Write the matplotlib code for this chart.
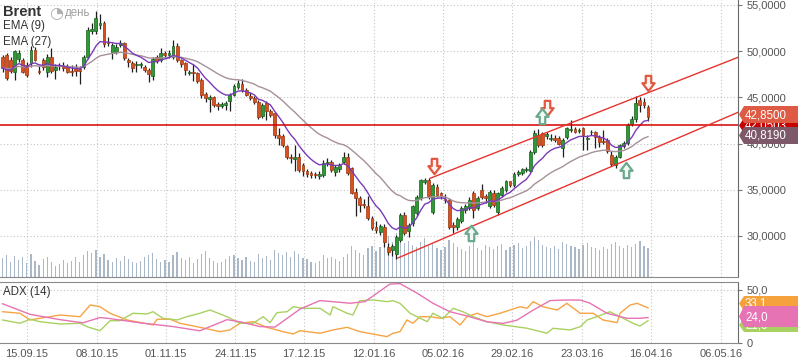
import numpy as np
import pandas as pd
import matplotlib
matplotlib.use("Agg")
import matplotlib.pyplot as plt
from matplotlib.path import Path
from matplotlib.patches import Polygon

plt.rcParams['font.family'] = ['Liberation Sans', 'DejaVu Sans']

# ---- data (daily Brent, bar index 0..159) ----
opens = [49.4, 49.6, 49.0, 47.8, 49.2, 49.1, 48.5, 48.7, 50.1, 47.9,
         49.0, 47.8, 49.4, 47.95, 48.35, 48.45, 48.3, 47.9, 48.2, 48.1,
         48.3, 49.4, 52.2, 52.2, 52.8, 53.0, 51.0, 49.8, 49.95, 50.7,
         50.9, 49.1, 48.7, 48.5, 48.5, 48.3, 48.0, 47.3, 49.4, 49.0,
         49.8, 49.6, 49.4, 50.6, 49.0, 48.7, 47.6, 47.8, 47.6, 46.9,
         45.4, 44.8, 45.0, 44.3, 44.1, 44.2, 44.6, 45.3, 46.1, 46.4,
         45.8, 45.2, 44.9, 44.5, 43.0, 44.4, 43.5, 43.3, 40.9, 40.8,
         39.7, 38.6, 38.3, 38.6, 37.7, 37.0, 36.8, 36.7, 36.5, 36.6,
         37.9, 38.0, 36.9, 37.3, 38.0, 38.5, 37.4, 34.8, 34.1, 33.5,
         33.2, 31.9, 31.0, 30.4, 31.0, 28.85, 28.5, 28.0, 29.6, 32.3,
         30.5, 31.4, 32.45, 34.1, 35.8, 36.05, 32.6, 35.3, 34.6, 34.0,
         33.9, 31.2, 31.0, 31.6, 32.8, 33.0, 34.6, 33.0, 35.0, 34.3,
         33.2, 34.6, 32.6, 34.4, 35.0, 35.9, 35.5, 36.7, 36.8, 37.1,
         37.0, 39.1, 40.9, 41.1, 40.8, 40.5, 40.6, 40.6, 39.5, 40.75,
         41.45, 41.6, 41.4, 41.65, 40.5, 41.2, 41.3, 40.75, 40.3, 40.4,
         38.8, 37.7, 38.6, 39.7, 40.1, 42.1, 42.7, 44.7, 44.5, 44.0]
highs = [49.6, 49.8, 49.4, 50.1, 50.1, 49.3, 48.8, 50.6, 50.4, 48.4,
         49.3, 49.7, 50.3, 48.6, 48.7, 48.8, 48.6, 48.5, 48.6, 48.4,
         49.6, 52.6, 53.0, 54.3, 54.0, 53.3, 51.5, 50.9, 50.8, 51.2,
         51.0, 49.3, 48.9, 48.9, 48.8, 48.5, 48.2, 49.4, 49.6, 50.3,
         50.0, 50.1, 51.2, 50.9, 49.2, 48.8, 48.0, 48.6, 47.8, 47.1,
         45.6, 45.3, 45.1, 44.5, 44.5, 44.6, 45.5, 46.4, 46.9, 47.0,
         46.0, 45.6, 45.1, 44.7, 44.4, 44.6, 43.7, 43.4, 41.7, 41.0,
         39.9, 38.9, 39.9, 39.0, 37.9, 37.2, 37.0, 36.9, 37.0, 38.2,
         38.4, 38.2, 37.7, 37.9, 39.1, 39.0, 37.5, 35.2, 34.3, 34.0,
         34.3, 32.2, 31.6, 31.3, 31.3, 29.2, 29.1, 30.1, 32.5, 32.6,
         31.4, 33.4, 34.4, 36.2, 36.3, 36.3, 35.7, 35.6, 34.8, 34.5,
         34.1, 31.5, 32.0, 33.2, 33.5, 34.2, 34.9, 34.3, 35.6, 34.5,
         35.0, 35.0, 34.8, 35.4, 36.1, 36.0, 36.9, 37.1, 37.4, 37.5,
         39.3, 41.5, 41.55, 41.3, 41.2, 41.0, 40.9, 40.8, 40.6, 41.8,
         42.55, 41.8, 41.7, 41.8, 40.9, 41.5, 41.4, 40.9, 41.5, 40.6,
         39.2, 38.8, 40.0, 40.3, 42.2, 43.0, 45.1, 45.0, 44.9, 44.2]
lows = [47.8, 46.9, 47.6, 46.9, 48.8, 47.6, 47.2, 48.3, 48.9, 47.5,
        48.0, 47.2, 47.6, 47.0, 48.0, 47.9, 47.6, 47.3, 47.3, 46.5,
        48.1, 49.2, 51.9, 51.9, 52.4, 50.5, 50.6, 49.2, 49.7, 50.4,
        49.1, 48.3, 47.8, 47.8, 48.2, 47.8, 46.7, 46.9, 48.7, 48.8,
        49.3, 49.3, 49.2, 48.8, 48.3, 47.4, 47.4, 46.8, 46.6, 44.9,
        44.5, 43.4, 44.0, 43.6, 43.9, 43.6, 43.5, 45.1, 45.9, 45.6,
        45.1, 44.7, 44.3, 42.7, 42.8, 42.5, 42.9, 40.6, 39.8, 39.6,
        38.3, 37.9, 37.0, 36.9, 36.5, 36.4, 36.3, 36.3, 36.2, 36.4,
        37.6, 36.9, 36.5, 36.9, 37.8, 36.6, 34.5, 32.2, 32.6, 33.0,
        31.7, 30.6, 30.3, 30.1, 28.8, 27.9, 27.8, 27.5, 29.4, 30.1,
        29.9, 31.1, 32.2, 33.9, 35.6, 34.0, 32.4, 34.2, 34.0, 33.6,
        30.8, 30.3, 30.6, 31.4, 32.5, 32.8, 31.95, 32.8, 34.0, 33.6,
        33.0, 33.1, 32.3, 34.2, 34.8, 35.3, 35.3, 36.5, 36.6, 36.9,
        36.9, 38.9, 39.6, 39.6, 40.5, 40.3, 40.2, 39.8, 38.6, 40.5,
        41.2, 41.1, 41.1, 39.3, 39.3, 40.9, 39.5, 39.6, 40.0, 39.0,
        37.6, 37.4, 38.4, 39.5, 39.9, 41.9, 42.3, 43.4, 43.8, 42.4]
closes = [48.2, 47.1, 47.9, 50.0, 49.8, 47.8, 47.4, 50.1, 49.1, 47.7,
          48.3, 49.4, 47.9, 48.3, 48.4, 48.15, 47.8, 47.8, 47.9, 47.9,
          49.4, 52.3, 52.4, 53.6, 53.0, 50.8, 50.9, 50.7, 50.5, 50.85,
          49.3, 48.8, 48.2, 48.6, 48.6, 48.0, 47.5, 49.2, 48.9, 49.8,
          49.6, 49.8, 50.6, 49.0, 48.6, 48.0, 47.8, 47.6, 46.8, 45.3,
          44.9, 45.0, 44.2, 44.1, 44.3, 44.4, 45.3, 46.2, 46.6, 45.8,
          45.3, 44.9, 44.5, 42.9, 44.2, 43.5, 43.1, 40.9, 40.6, 39.9,
          38.6, 38.4, 38.5, 37.1, 37.0, 36.7, 36.6, 36.6, 36.7, 37.9,
          38.05, 37.1, 37.5, 37.7, 38.6, 36.8, 34.7, 34.1, 33.4, 33.3,
          31.9, 30.9, 30.7, 31.1, 29.4, 28.3, 28.9, 29.9, 32.3, 30.3,
          31.2, 33.2, 34.25, 36.05, 36.1, 34.3, 35.5, 34.4, 34.3, 33.9,
          31.0, 31.0, 31.8, 33.0, 33.2, 33.9, 32.8, 34.1, 34.25, 34.1,
          34.8, 33.35, 34.6, 35.2, 35.9, 35.5, 36.7, 36.9, 37.2, 37.3,
          39.1, 41.1, 39.85, 39.9, 41.0, 40.6, 40.4, 40.0, 40.4, 41.65,
          41.5, 41.3, 41.5, 40.9, 40.6, 41.3, 40.75, 40.2, 40.2, 39.2,
          37.8, 38.6, 39.85, 40.1, 42.0, 42.7, 44.4, 44.2, 44.2, 42.85]
volume = [38, 45, 30, 42, 35, 40, 28, 46, 33, 25, 36, 41, 30, 22, 27, 35, 29, 33, 40, 31,
          44, 52, 48, 55, 40, 47, 35, 30, 38, 33, 42, 36, 30, 28, 33, 40, 45, 48, 37, 31,
          35, 30, 44, 50, 38, 34, 41, 29, 36, 46, 52, 39, 33, 28, 31, 37, 42, 45, 38, 35,
          40, 33, 30, 46, 38, 42, 35, 55, 48, 44, 50, 41, 53, 47, 39, 36, 30, 28, 33, 45,
          38, 41, 36, 32, 40, 47, 62, 55, 49, 44, 58, 63, 52, 60, 78, 82, 70, 88, 75, 68,
          72, 65, 60, 70, 78, 62, 66, 58, 54, 60, 74, 68, 60, 56, 52, 62, 70, 58, 55, 64,
          60, 57, 63, 66, 55, 60, 64, 68, 59, 62, 72, 80, 74, 65, 60, 58, 62, 56, 70, 66,
          63, 60, 57, 64, 68, 61, 59, 55, 60, 57, 66, 70, 62, 58, 64, 60, 66, 72, 63, 58]

date_pos = [6.0, 23.3, 40.3, 57.3, 74.3, 91.5, 108.5, 125.5, 142.7, 159.7, 177.0]
date_labels = ["15.09.15", "08.10.15", "01.11.15", "24.11.15", "17.12.15", "12.01.16",
               "05.02.16", "29.02.16", "23.03.16", "16.04.16", "06.05.16"]

hline_level = 42.05
upper_channel_x = [105.3, 181.2]
upper_channel_y = [36.24, 49.34]
lower_channel_x = [97.4, 181.2]
lower_channel_y = [27.62, 43.39]

down_arrow_x = [106.3, 134.2, 159.0]
down_arrow_y = [37.6, 43.8, 46.6]
up_arrow_x = [115.4, 132.8, 153.5]
up_arrow_y = [30.3, 43.0, 37.1]

# ADX(14) panel readings
adx_x = [0, 6.8, 14.2, 19.8, 24.0, 26.5, 33.9, 42.0, 48.6, 55.3, 58.5, 63.4, 67.1, 73.3,
         78.2, 85.6, 89.3, 95.4, 97.9, 102.1, 106.0, 110.2, 114.4, 119.3, 123.3, 126.7,
         130.7, 134.9, 138.6, 142.3, 144.7, 148.9, 153.8, 157.0, 159.0]
adx_v = [37, 27, 22, 19, 24, 23, 19, 15.5, 11.5, 22, 20, 15.5, 15, 32, 40, 37.5, 39, 55.5,
         56, 47, 37.5, 29.5, 25.5, 20, 18.5, 21.5, 31, 40, 40.5, 40.5, 37.5, 28, 23.3, 23.3, 24.0]
pdi_x = [0, 4.3, 6.8, 9.2, 11.7, 14.2, 19.1, 21.6, 24.0, 26.5, 30.7, 37.1, 38.1, 41.3, 43.7,
         48.6, 53.6, 56.0, 58.5, 61.7, 65.1, 69.1, 71.6, 73.3, 78.2, 81.4, 84.9, 88.0, 94.7,
         96.2, 97.9, 99.6, 101.1, 102.8, 105.3, 107.8, 110.2, 112.7, 114.4, 116.9, 119.3,
         122.5, 125.0, 127.5, 129.2, 130.7, 133.1, 136.6, 139.0, 142.3, 145.5, 147.9, 151.4,
         152.1, 154.6, 156.3, 159.0]
pdi_v = [29.5, 28, 21.7, 23.3, 24.8, 26.4, 24.8, 35.8, 34.2, 28, 21.7, 17, 22.4, 22.4, 18.6,
         14.8, 10.7, 12.3, 18.6, 20.1, 14.8, 10.7, 8.5, 11.6, 9.2, 12.3, 14.8, 10.7, 6, 9.2,
         10.7, 21.7, 18.6, 24.8, 24.8, 23.3, 24.8, 17, 24.8, 28, 24.8, 28, 31.1, 34.2, 32.7,
         39, 34.2, 31.1, 37.4, 28, 28, 21.7, 19.2, 28, 35.8, 37.4, 33.1]
mdi_x = [0, 4.3, 6.8, 9.2, 14.2, 19.1, 20.8, 24.0, 26.5, 28.9, 32.1, 35.6, 37.1, 39.5, 43.0,
         45.4, 48.6, 51.1, 55.3, 58.5, 61.7, 64.2, 65.9, 67.6, 70.1, 71.6, 74.0, 78.2, 80.7,
         81.4, 84.9, 86.3, 88.0, 91.3, 94.7, 96.2, 97.9, 100.4, 102.1, 104.6, 106.0, 108.5,
         111.0, 113.4, 115.9, 119.3, 123.3, 129.2, 134.1, 135.6, 139.8, 142.3, 144.0, 146.4,
         149.6, 152.1, 155.3, 157.0, 159.0]
mdi_v = [21.7, 18.6, 22.4, 20.1, 17.9, 18.6, 15.4, 11.6, 21, 21, 28, 27.4, 29.5, 23.3, 21.7,
         24.8, 28, 31.1, 24.8, 18.6, 18.6, 24.8, 19.2, 28.6, 29.5, 34.2, 32.7, 32.7, 26.4,
         34.2, 28, 26.4, 39.9, 40.6, 39, 39.9, 37.4, 28, 24.8, 20.1, 28, 23.3, 32.7, 29.5,
         24.8, 20.1, 17, 13.9, 9.2, 13.9, 12.3, 15.4, 21.7, 24.8, 29.5, 24.8, 18.6, 16, 21]

# ---- layout helpers (pixels, y measured from top) ----
W, H = 798, 363
fig = plt.figure(figsize=(W / 100, H / 100), dpi=100)


def rect(x0, y0, x1, y1):
    return [x0 / W, 1 - y1 / H, (x1 - x0) / W, (y1 - y0) / H]


def fxy(x, y):
    return (x / W, 1 - y / H)


ax = fig.add_axes(rect(0, 0, 738, 277))
axv = ax.twinx()
axa = fig.add_axes(rect(0, 282, 738, 343))

idx = np.arange(len(closes))
o = np.array(opens); c = np.array(closes)
hi = np.array(highs); lo = np.array(lows)

XMIN, XMAX = -0.62, 181.16
grid_kw = dict(color='#c4c4c4', ls=(0, (1, 2)), lw=0.8)
tick_col = '#555555'

# volume behind
axv.bar(idx, volume, width=0.3, color='#a9b7c6', zorder=1)
axv.set_ylim(0, 560)
axv.set_yticks([])
for s in axv.spines.values():
    s.set_visible(False)
axv.set_zorder(0)
ax.set_zorder(1)
ax.patch.set_visible(False)

# main price panel
for p in date_pos:
    ax.axvline(p, **grid_kw, zorder=0)
for p in [30, 35, 40, 45, 50, 55]:
    ax.axhline(p, **grid_kw, zorder=0)

up = c >= o
body_bot = np.minimum(o, c)
body_h = np.maximum(np.abs(c - o), 0.08)
ax.vlines(idx, lo, hi, color='#1e1e1e', lw=0.9, zorder=3)
ax.bar(idx, body_h, bottom=body_bot, width=0.7,
       color=np.where(up, '#2d9a36', '#d8521f'),
       edgecolor=np.where(up, '#17611d', '#9c3510'), lw=0.5, zorder=4)

ema9 = pd.Series(closes).ewm(span=9, adjust=False).mean()
ema27 = pd.Series(closes).ewm(span=27, adjust=False).mean()
ax.plot(idx, ema27, color='#a6909a', lw=1.0, zorder=5)
ax.plot(idx, ema9, color='#7a3bb8', lw=1.0, zorder=5)

ax.axhline(hline_level, color='#d40000', lw=1.1, zorder=6)
ax.plot(upper_channel_x, upper_channel_y, color='#e8332e', lw=1.0, zorder=6)
ax.plot(lower_channel_x, lower_channel_y, color='#e8332e', lw=1.0, zorder=6)

down_path = Path([(-0.18, 0.5), (0.18, 0.5), (0.18, 0.02), (0.4, 0.02), (0.0, -0.5),
                  (-0.4, 0.02), (-0.18, 0.02), (-0.18, 0.5)], closed=True)
up_path = Path([(x, -y) for x, y in down_path.vertices], closed=True)
ax.plot(down_arrow_x, down_arrow_y, ls='none', marker=down_path, ms=11,
        mfc='#fdf3f1', mec='#e2573f', mew=1.6, zorder=8)
ax.plot(up_arrow_x, up_arrow_y, ls='none', marker=up_path, ms=11,
        mfc='#f2f8f4', mec='#6ba88d', mew=1.6, zorder=8)

ax.set_xlim(XMIN, XMAX)
ax.set_ylim(25.56, 55.54)
ax.set_xticks([])
ax.yaxis.tick_right()
ax.set_yticks([30, 35, 40, 45, 50, 55])
ax.set_yticklabels([f"{v:.4f}".replace('.', ',') for v in [30, 35, 40, 45, 50, 55]])
ax.tick_params(axis='y', length=3, pad=3, colors='#777777', labelcolor=tick_col, labelsize=8)
for k in ['top', 'left']:
    ax.spines[k].set_visible(False)
ax.spines['right'].set_color('#6a6a6a')
ax.spines['bottom'].set_color('#8a8a8a')

# ADX panel
for p in date_pos:
    axa.axvline(p, **grid_kw, zorder=0)
axa.axhline(50, **grid_kw, zorder=0)
axa.plot(pdi_x, pdi_v, color='#f7a443', lw=1.0)
axa.plot(mdi_x, mdi_v, color='#a9d161', lw=1.0)
axa.plot(adx_x, adx_v, color='#e673b3', lw=1.0)
axa.set_xlim(XMIN, XMAX)
axa.set_ylim(0, 57.5)
axa.yaxis.tick_right()
axa.set_yticks([0, 50])
axa.set_yticklabels(["0", "50,0"])
axa.set_xticks(date_pos)
axa.set_xticklabels(date_labels)
axa.tick_params(axis='y', length=3, pad=3, colors='#777777', labelcolor=tick_col, labelsize=8)
axa.tick_params(axis='x', length=0, pad=4, labelcolor=tick_col, labelsize=8)
axa.spines['left'].set_visible(False)
for k in ['top', 'bottom', 'right']:
    axa.spines[k].set_color('#8a8a8a')
axa.spines['right'].set_color('#6a6a6a')

# texts
fig.text(*fxy(3, 12), "Brent", fontsize=10.5, fontweight='bold', color='#333333', va='center')
fig.text(*fxy(49, 12.5), "\u25d4", family=['DejaVu Sans'], fontsize=11.5, color='#b0b0b0', va='center')
fig.text(*fxy(65, 13), "день", fontsize=8.3, color='#a0a0a0', va='center')
fig.text(*fxy(3, 26.5), "EMA (9)", fontsize=8.3, color='#333333', va='center')
fig.text(*fxy(3, 42), "EMA (27)", fontsize=8.3, color='#333333', va='center')
fig.text(*fxy(3, 292), "ADX (14)", fontsize=8.3, color='#333333', va='center')

# value tags on the right edge, later ones drawn on top
tag_z = [20]


def tag(y0, y1, color, label, txtcol='white'):
    z = tag_z[0]
    pts = [fxy(739, (y0 + y1) / 2), fxy(744, y0), fxy(798, y0), fxy(798, y1), fxy(744, y1)]
    fig.add_artist(Polygon(pts, closed=True, transform=fig.transFigure,
                           facecolor=color, edgecolor='none', zorder=z))
    fig.text(*fxy(745, (y0 + y1) / 2 + 0.5), label, fontsize=8.3, color=txtcol,
             va='center', zorder=z + 1)
    tag_z[0] += 2


tag(118, 133, '#c40000', "42,0503")
tag(106, 123, '#de5a44', "42,8500")
tag(127, 144, '#7c5868', "40,8190")

tag(296, 311, '#f6a23c', "33,1")
tag(318, 332, '#a9d161', "21,0")
tag(306, 327, '#e673b3', "24,0")

fig.savefig("out.png", dpi=100)
